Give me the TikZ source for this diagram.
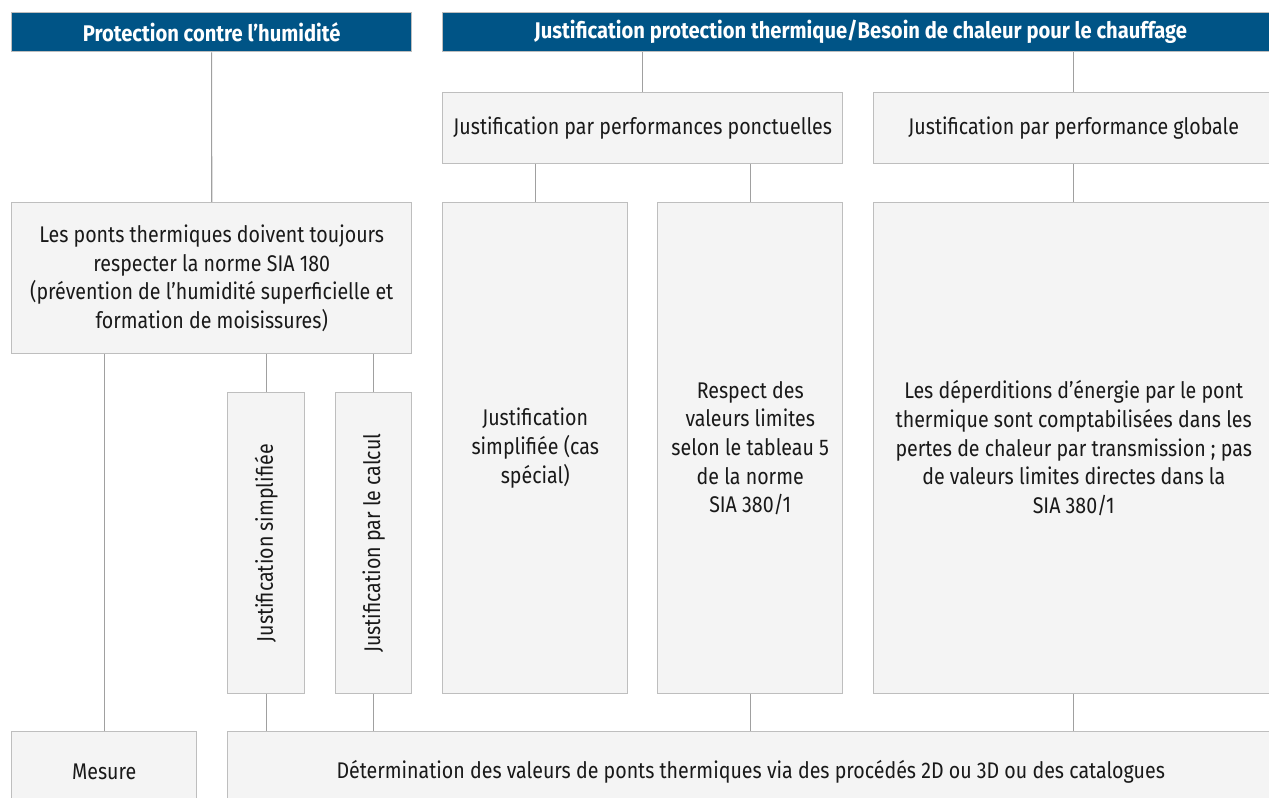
\documentclass[tikz,border=0pt]{standalone}
\usepackage{fontspec}
\setmainfont{Fira Sans}[FakeStretch=0.865]
\newfontfamily\headfont{Fira Sans}[FakeStretch=0.89]
\definecolor{headblue}{HTML}{005486}
\definecolor{boxfill}{HTML}{F4F4F4}
\definecolor{boxline}{HTML}{BEBEBE}
\definecolor{linkline}{HTML}{A0A0A0}
\tikzset{
  head/.style={rectangle, draw=boxline, line width=1pt, fill=headblue, text=white,
    anchor=north west, inner sep=0pt, align=center,
    font=\headfont\fontsize{17}{20}\selectfont\bfseries},
  cell/.style={rectangle, draw=boxline, line width=1.1pt, fill=boxfill, text=black!90,
    anchor=north west, inner sep=0pt, align=center,
    font=\fontsize{17}{21.5}\selectfont},
  vlabel/.style={rotate=90, text=black!90, font=\fontsize{17}{21.5}\selectfont},
  link/.style={draw=linkline, line width=0.8pt}
}
\begin{document}
\begin{tikzpicture}[x=0.75pt, y=-0.75pt]
\clip (0,0) rectangle (1269,798);
\fill[white] (0,0) rectangle (1269,798);

% headers
\node[head, minimum width=400*0.75pt, minimum height=39*0.75pt] (hum) at (11,12) {Protection contre l’humidité};
\node[head, minimum width=836*0.75pt, minimum height=39*0.75pt] (thm) at (442,12) {Justification protection thermique/Besoin de chaleur pour le chauffage};

% second row
\node[cell, minimum width=400*0.75pt, minimum height=71*0.75pt] (ponc) at (442,92) {Justification par performances ponctuelles};
\node[cell, minimum width=400*0.75pt, minimum height=71*0.75pt] (glob) at (873,92) {Justification par performance globale};

% third row
\node[cell, minimum width=400*0.75pt, minimum height=151*0.75pt] (ponts) at (11,202)
  {Les ponts thermiques doivent toujours\\respecter la norme SIA 180\\(prévention de l’humidité superficielle et\\formation de moisissures)};
\node[cell, minimum width=185*0.75pt, minimum height=491*0.75pt] (spec) at (442,202)
  {Justification\\simplifiée (cas\\spécial)};
\node[cell, minimum width=185*0.75pt, minimum height=491*0.75pt] (resp) at (657,202)
  {Respect des\\valeurs limites\\selon le tableau 5\\de la norme\\SIA 380/1};
\node[cell, minimum width=400*0.75pt, minimum height=491*0.75pt] (dep) at (873,202)
  {Les déperditions d’énergie par le pont\\thermique sont comptabilisées dans les\\pertes de chaleur par transmission ; pas\\de valeurs limites directes dans la\\SIA 380/1};

% vertical boxes
\node[cell, minimum width=77*0.75pt, minimum height=301*0.75pt] (simp) at (227,392) {};
\node[vlabel] (simptext) at (simp.center) {Justification simplifiée};
\node[cell, minimum width=76*0.75pt, minimum height=301*0.75pt] (calc) at (335,392) {};
\node[vlabel] (calctext) at (calc.center) {Justification par le calcul};

% bottom row
\node[cell, minimum width=185*0.75pt, minimum height=80*0.75pt] (mes) at (11,731) {Mesure};
\node[cell, minimum width=1046*0.75pt, minimum height=80*0.75pt] (det) at (227,731)
  {Détermination des valeurs de ponts thermiques via des procédés 2D ou 3D ou des catalogues};

% connectors
\draw[link] (hum.south) -- (ponts.north);
\draw[link] (ponc.north) -- (ponc.north |- thm.south);
\draw[link] (glob.north) -- (glob.north |- thm.south);
\draw[link] (spec.north) -- (spec.north |- ponc.south);
\draw[link] (resp.north) -- (resp.north |- ponc.south);
\draw[link] (glob.south) -- (dep.north);
\draw[link] (mes.north) -- (mes.north |- ponts.south);
\draw[link] (simp.north) -- (simp.north |- ponts.south);
\draw[link] (calc.north) -- (calc.north |- ponts.south);
\draw[link] (simp.south) -- (simp.south |- det.north);
\draw[link] (calc.south) -- (calc.south |- det.north);
\draw[link] (resp.south) -- (resp.south |- det.north);
\draw[link] (dep.south) -- (dep.south |- det.north);
\end{tikzpicture}
\end{document}
